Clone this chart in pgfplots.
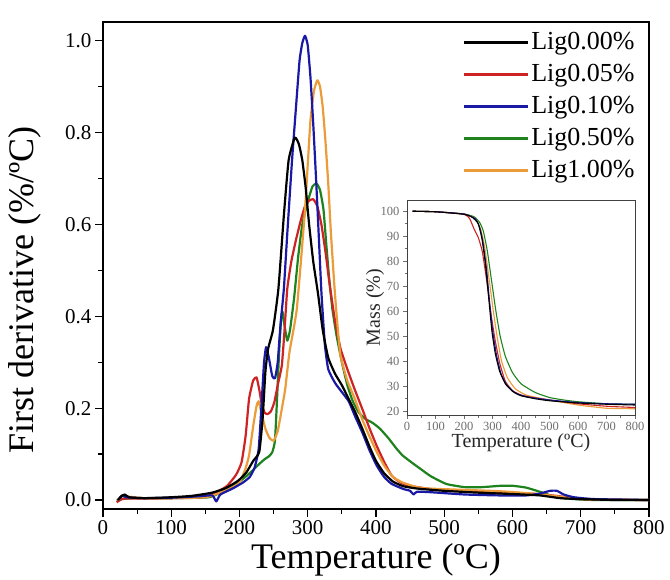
\documentclass[border=0pt]{standalone}
\usepackage{pgfplots}
\pgfplotsset{compat=1.18}
\usepackage{fontspec}
\setmainfont{Liberation Serif}

\definecolor{cRed}{RGB}{205,35,35}
\definecolor{cBlue}{RGB}{25,25,165}
\definecolor{cGreen}{RGB}{30,130,30}
\definecolor{cOrange}{RGB}{235,155,55}
\definecolor{tickgray}{RGB}{110,110,110}

\begin{document}
\begin{tikzpicture}
\path[use as bounding box] (-103pt,-79pt) rectangle (567pt,500pt);
\begin{axis}[
  at={(0pt,0pt)}, anchor=origin,
  scale only axis, width=546pt, height=487pt,
  xmin=0, xmax=800, ymin=-0.0196, ymax=1.041,
  xtick={0,100,...,800}, minor xtick={50,150,...,750},
  ytick={0,0.2,...,1.0}, minor ytick={0.1,0.3,...,0.9},
  tick pos=left, tick align=outside,
  major tick length=8pt, minor tick length=5pt,
  every tick/.style={black, line width=1.2pt},
  axis line style={line width=1.5pt},
  /pgf/number format/assume math mode=true,
  yticklabel style={/pgf/number format/.cd, fixed, fixed zerofill, precision=1},
  tick label style={font=\fontsize{21}{23}\selectfont},
  xlabel={Temperature (ºC)},
  ylabel={First derivative (\%/ºC)},
  every axis x label/.style={at={(axis description cs:0.5,-0.104)}, anchor=center,
    font=\fontsize{36}{38}\selectfont},
  every axis y label/.style={at={(axis description cs:-0.1062,0.45)}, rotate=90, anchor=south,
    font=\fontsize{36}{38}\selectfont},
  legend style={draw=none, fill=none, at={(axis description cs:0.983,0.99)}, anchor=north east,
    font=\fontsize{26}{28}\selectfont, row sep=5pt,
    nodes={text height=18pt, text depth=5pt, inner sep=2pt}},
  legend cell align=left,
  legend image code/.code={\draw[#1] (0pt,0pt) -- (64pt,0pt);},
  every axis plot/.append style={line width=2.2pt, line join=round},
]
\addlegendimage{black, line width=2.2pt}\addlegendentry{Lig0.00\%}
\addlegendimage{cRed, line width=2.2pt}\addlegendentry{Lig0.05\%}
\addlegendimage{cBlue, line width=2.2pt}\addlegendentry{Lig0.10\%}
\addlegendimage{cGreen, line width=2.2pt}\addlegendentry{Lig0.50\%}
\addlegendimage{cOrange, line width=2.2pt}\addlegendentry{Lig1.00\%}

% Lig0.50%
\addplot[cGreen, forget plot, smooth, tension=0.3] coordinates {
(20,0.0)(40,0.004)(100,0.004)(155,0.006)(180,0.022)(198,0.038)(210,0.052)(219,0.064)
(230,0.08)(237,0.089)(243,0.095)(248,0.104)(252,0.13)(255,0.22)(258,0.32)(261,0.395)
(263,0.41)(266,0.38)(270,0.347)(274,0.37)(280,0.44)(286,0.53)(292,0.6)(300,0.65)
(307,0.683)(313,0.689)(318,0.675)(323,0.633)(327,0.56)(331,0.489)(336,0.417)(342,0.36)
(350,0.3)(358,0.25)(366,0.215)(375,0.19)(385,0.176)(395,0.168)(406,0.155)(418,0.135)
(430,0.112)(439,0.097)(452,0.082)(465,0.068)(480,0.052)(503,0.035)(530,0.028)(555,0.028)
(583,0.031)(600,0.031)(620,0.027)(642,0.017)(664,0.006)(690,0.002)(720,0.0)(800,0.0)};
% Lig0.05%
\addplot[cRed, forget plot, smooth, tension=0.3] coordinates {
(20,-0.005)(30,0.003)(60,0.003)(100,0.004)(130,0.005)(150,0.007)(170,0.02)(182,0.031)
(195,0.055)(203,0.082)(209,0.14)(214,0.22)(220,0.26)(225,0.267)(229,0.24)(233,0.205)
(237,0.19)(241,0.187)(246,0.193)(251,0.213)(256,0.25)(262,0.293)(266,0.37)(270,0.46)
(276,0.52)(283,0.568)(290,0.61)(296,0.64)(302,0.652)(308,0.655)(314,0.64)(320,0.6)
(326,0.54)(332,0.47)(340,0.39)(348,0.33)(358,0.285)(369,0.24)(380,0.198)(390,0.158)
(401,0.118)(412,0.083)(423,0.053)(436,0.038)(449,0.031)(480,0.024)(530,0.02)(583,0.017)
(637,0.013)(670,0.008)(690,0.003)(720,0.001)(800,0.0)};
% Lig1.00%
\addplot[cOrange, forget plot, smooth, tension=0.3] coordinates {
(22,0.0)(28,0.01)(34,0.008)(60,0.004)(100,0.004)(150,0.006)(175,0.018)(198,0.035)
(208,0.065)(214,0.097)(220,0.16)(225,0.205)(228,0.215)(232,0.19)(238,0.155)(244,0.135)
(250,0.129)(256,0.15)(261,0.19)(267,0.242)(273,0.32)(279,0.37)(284,0.416)(290,0.52)
(296,0.633)(300,0.73)(304,0.827)(309,0.89)(314,0.914)(318,0.9)(322,0.855)(326,0.78)
(330,0.69)(334,0.58)(339,0.467)(343,0.39)(348,0.314)(358,0.26)(369,0.22)(380,0.175)
(390,0.14)(401,0.105)(412,0.075)(425,0.05)(439,0.038)(460,0.028)(476,0.025)(530,0.022)
(583,0.019)(637,0.013)(670,0.007)(690,0.003)(720,0.001)(800,0.0)};
% Lig0.10%
\addplot[cBlue, forget plot, smooth, tension=0.3] coordinates {
(22,0.0)(28,0.01)(34,0.006)(60,0.004)(100,0.005)(140,0.008)(160,0.01)(166,-0.003)
(172,0.012)(190,0.025)(205,0.038)(215,0.05)(222,0.07)(228,0.11)(232,0.2)(236,0.3)
(239,0.333)(243,0.31)(248,0.27)(252,0.265)(256,0.3)(260,0.38)(265,0.46)(270,0.58)
(277,0.74)(283,0.86)(288,0.957)(292,0.995)(296,1.011)(300,0.99)(304,0.92)(308,0.82)
(312,0.705)(316,0.58)(320,0.453)(325,0.34)(330,0.285)(340,0.255)(350,0.235)(360,0.215)
(370,0.18)(380,0.147)(390,0.11)(401,0.075)(412,0.05)(423,0.035)(440,0.024)(450,0.02)
(455,0.012)(460,0.018)(480,0.017)(530,0.012)(580,0.01)(620,0.01)(640,0.014)(655,0.02)
(665,0.02)(675,0.012)(690,0.006)(720,0.002)(800,0.0)};
% Lig0.00%
\addplot[black, forget plot, smooth, tension=0.3] coordinates {
(22,0.0)(27,0.008)(32,0.012)(38,0.006)(60,0.004)(100,0.006)(130,0.009)(160,0.016)
(180,0.026)(198,0.042)(210,0.06)(220,0.085)(229,0.105)(234,0.18)(238,0.28)(242,0.33)
(249,0.37)(257,0.46)(265,0.62)(272,0.74)(281,0.789)(287,0.775)(292,0.74)(297,0.68)
(302,0.6)(308,0.52)(315,0.45)(322,0.37)(330,0.31)(340,0.275)(350,0.25)(360,0.22)
(370,0.19)(380,0.155)(390,0.118)(400,0.085)(412,0.058)(425,0.04)(440,0.03)(460,0.025)
(500,0.02)(550,0.016)(600,0.013)(640,0.01)(670,0.004)(700,0.002)(750,0.0)(800,0.0)};
\end{axis}

\begin{axis}[
  at={(304pt,85pt)}, anchor=origin,
  scale only axis, width=228pt, height=215pt,
  xmin=0, xmax=800, ymin=18.5, ymax=104.5,
  xtick={0,100,...,800}, minor xtick={50,150,...,750},
  ytick={20,30,...,100}, minor ytick={25,35,...,95},
  tick pos=left, tick align=outside,
  major tick length=4pt, minor tick length=2.5pt,
  every tick/.style={tickgray, line width=0.6pt},
  axis line style={line width=0.8pt, black!75},
  /pgf/number format/assume math mode=true,
  tick label style={font=\fontsize{12.5}{13}\selectfont, text=tickgray},
  xlabel={Temperature (ºC)},
  ylabel={Mass (\%)},
  every axis x label/.style={at={(axis description cs:0.5,-0.13)}, anchor=center,
    font=\fontsize{20}{22}\selectfont, text=black!85},
  every axis y label/.style={at={(axis description cs:-0.14,0.5)}, rotate=90, anchor=center,
    font=\fontsize{20}{22}\selectfont, text=black!85},
  every axis plot/.append style={line width=1.1pt, smooth, tension=0.3},
]
\addplot[cGreen] coordinates {
(20,100)(100,99.8)(200,98.9)(235,97.8)(255,95.5)(268,92)(282,84)(297,72)(312,60)(327,50)
(345,42)(370,35.5)(400,31)(450,27.5)(500,25.5)(550,24.5)(600,23.8)(700,23)(800,22.8)};
\addplot[cOrange] coordinates {
(20,100)(100,99.8)(200,98.9)(240,97)(258,93)(272,86)(288,73)(303,60)(316,50)(332,40)
(352,33.5)(380,29)(420,26.4)(500,24.5)(600,22.5)(700,21.2)(800,21)};
\addplot[cRed] coordinates {
(20,100)(100,99.8)(200,98.8)(220,97)(235,93)(250,89.5)(264,84)(280,72)(296,58)(310,48)
(326,39)(345,32)(370,28.3)(400,26.5)(450,25.3)(500,24.5)(600,23)(700,22)(800,21.5)};
\addplot[cBlue] coordinates {
(20,100)(100,99.8)(200,98.9)(240,97)(255,93.5)(266,88)(280,76)(291,62)(302,51)(315,42)
(330,35)(350,30.5)(380,27.3)(420,25.8)(500,24.5)(600,23.5)(700,23)(800,22.8)};
\addplot[black] coordinates {
(20,100)(100,99.8)(200,98.8)(230,97.5)(250,95)(263,89)(275,79)(287,65)(298,52)(310,43)
(325,36)(345,31)(370,28)(400,26.2)(450,25)(500,24.2)(600,23.3)(700,22.8)(800,22.5)};
\end{axis}
\end{tikzpicture}
\end{document}
